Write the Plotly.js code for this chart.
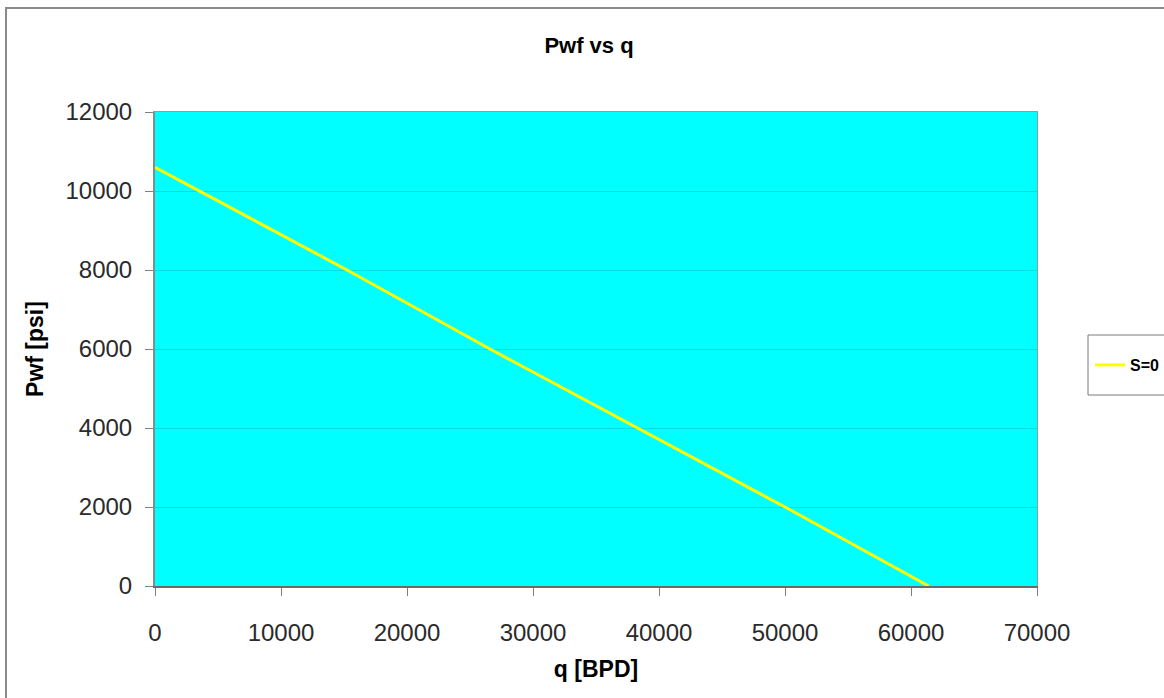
<!DOCTYPE html>
<html>
<head>
<meta charset="utf-8">
<script src="https://cdn.plot.ly/plotly-3.0.1.min.js"></script>
<style>
  html, body { margin: 0; padding: 0; background: #ffffff; }
  #wrap { position: relative; width: 1164px; height: 698px; overflow: hidden; }
  #chart { position: absolute; left: 0; top: 0; width: 1164px; height: 698px; }
  #frame { position: absolute; left: 5px; top: 7px; width: 1200px; height: 740px;
           border-left: 2px solid #8a8a8a; border-top: 2px solid #8a8a8a; pointer-events: none; }
</style>
</head>
<body>
<div id="wrap">
  <div id="chart"></div>
  <div id="frame"></div>
</div>
<script>
// Data
const seriesName = "S=0";
const qBPD = [0, 15240, 26590, 38250, 50000, 61400];
const pwfPsi = [10600, 8000, 6000, 4000, 2000, 0];

const xTicks = [0, 10000, 20000, 30000, 40000, 50000, 60000, 70000];
const yTicks = [0, 2000, 4000, 6000, 8000, 10000, 12000];

const chartTitle = "Pwf vs q";
const xTitle = "q [BPD]";
const yTitle = "Pwf [psi]";

const fontFam = "Liberation Sans, Arial, sans-serif";

const traces = [{
  type: "scatter",
  mode: "lines",
  name: seriesName,
  x: qBPD,
  y: pwfPsi,
  line: { color: "#ffff00", width: 3 }
}];

const layout = {
  width: 1164,
  height: 698,
  margin: { l: 155, r: 127, t: 112, b: 112, autoexpand: false },
  paper_bgcolor: "#ffffff",
  plot_bgcolor: "#00ffff",
  title: {
    text: "<b>" + chartTitle + "</b>",
    font: { family: fontFam, size: 22, color: "#000000" },
    x: 589 / 1164, xanchor: "center", xref: "container",
    y: 1 - 45 / 698, yanchor: "middle", yref: "container"
  },
  xaxis: {
    range: [0, 70000],
    tickvals: xTicks,
    ticktext: xTicks.map(String),
    ticks: "outside", ticklen: 8, tickcolor: "#808080", tickwidth: 1,
    ticklabelstandoff: 16,
    showline: true, linecolor: "#6a6a6a", linewidth: 2, mirror: false,
    showgrid: false, zeroline: false,
    tickfont: { family: fontFam, size: 24, color: "#2a2a2a" },
    title: { text: "<b>" + xTitle + "</b>", font: { family: fontFam, size: 23, color: "#000000" }, standoff: 16 }
  },
  xaxis2: {
    overlaying: "x", side: "top", range: [0, 70000], matches: "x",
    showline: true, linecolor: "#9a9a9a", linewidth: 1,
    showticklabels: false, ticks: "", showgrid: false, zeroline: false
  },
  yaxis: {
    range: [0, 12000],
    tickvals: yTicks,
    ticktext: yTicks.map(String),
    ticks: "outside", ticklen: 8, tickcolor: "#808080", tickwidth: 1,
    ticklabelstandoff: 8,
    showline: true, linecolor: "#8a8a8a", linewidth: 2, mirror: false,
    showgrid: true, gridcolor: "rgba(0,110,110,0.22)", gridwidth: 1,
    zeroline: false,
    tickfont: { family: fontFam, size: 24, color: "#2a2a2a" },
    title: { text: "<b>" + yTitle + "</b>", font: { family: fontFam, size: 23, color: "#000000" }, standoff: 15 }
  },
  yaxis2: {
    overlaying: "y", side: "right", range: [0, 12000],
    showline: true, linecolor: "#9a9a9a", linewidth: 1,
    showticklabels: false, ticks: "", showgrid: false, zeroline: false
  },
  showlegend: true,
  legend: {
    xref: "container", yref: "container",
    x: 1090 / 1164, xanchor: "left",
    y: 1 - 365 / 698, yanchor: "middle",
    bgcolor: "rgba(0,0,0,0)",
    borderwidth: 0,
    font: { family: fontFam, size: 16, color: "#000000", weight: "bold" },
    itemwidth: 30
  },
  shapes: [{
    type: "rect", xref: "paper", yref: "paper", layer: "below",
    x0: (1088 - 155) / 882, x1: (1180 - 155) / 882,
    y0: (586 - 395) / 474, y1: (586 - 335) / 474,
    line: { color: "#7a7a7a", width: 1 }, fillcolor: "#ffffff"
  }]
};

// invisible helper trace to show the top/right frame axes
traces.push({
  type: "scatter", mode: "lines", x: [], y: [], xaxis: "x2", yaxis: "y2",
  showlegend: false, hoverinfo: "skip"
});

Plotly.newPlot("chart", traces, layout, { displayModeBar: false, staticPlot: true });
</script>
</body>
</html>
